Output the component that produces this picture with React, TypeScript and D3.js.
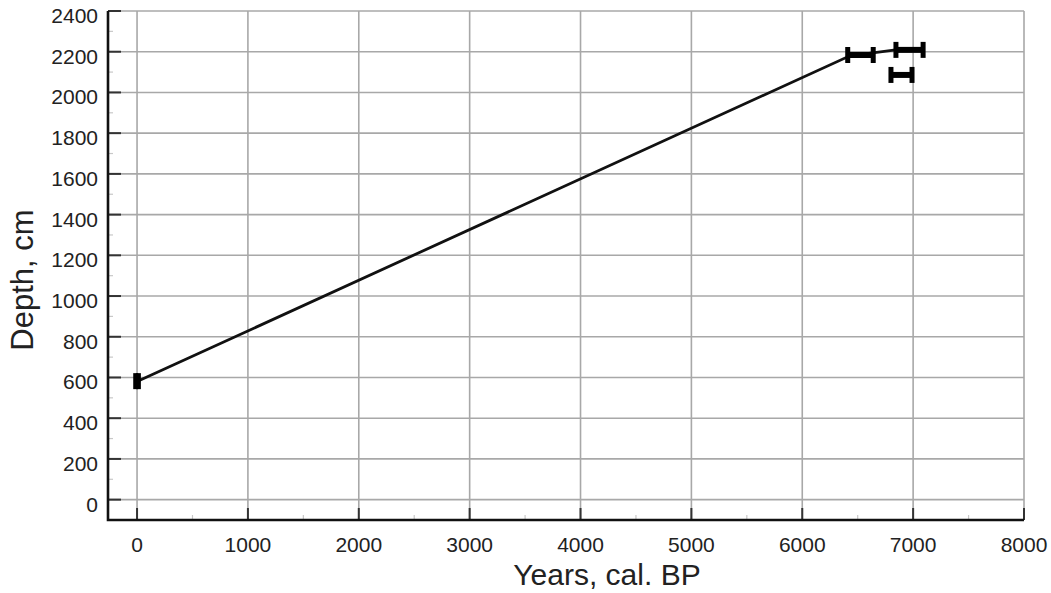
import React, { useEffect, useRef } from 'react'
import * as d3 from 'd3'

// age-depth model line
const modelYears = [0, 6430, 6860]
const modelDepths = [580, 2180, 2210]

// dated samples with calibrated ranges
const dateMin = [-12, 6410, 6845, 6800]
const dateMax = [12, 6640, 7090, 6990]
const dateDepth = [582, 2184, 2209, 2086]

const xTicks = [0, 1000, 2000, 3000, 4000, 5000, 6000, 7000, 8000]
const yTicks = [0, 200, 400, 600, 800, 1000, 1200, 1400, 1600, 1800, 2000, 2200, 2400]

const App = () => {
    const ref = useRef<SVGSVGElement>(null)

    useEffect(() => {
        draw()
    })

    const draw = () => {
        const W = 1051
        const H = 593
        const left = 108
        const right = 1024
        const top = 11
        const bottom = 520

        const svg = d3.select(ref.current)
        svg.selectAll('*').remove()
        svg.attr('width', W).attr('height', H)

        const x = d3.scaleLinear().domain([-262, 8000]).range([left, right])
        const y = d3.scaleLinear().domain([-100, 2400]).range([bottom, top])

        const font = 'Liberation Sans, Arial, sans-serif'

        // grid
        const grid = svg.append('g').attr('stroke', '#a8a8a8').attr('stroke-width', 1.6)
        xTicks.forEach((t) => {
            grid.append('line').attr('x1', x(t)).attr('x2', x(t)).attr('y1', top).attr('y2', bottom)
        })
        yTicks.forEach((t) => {
            grid.append('line').attr('x1', left).attr('x2', right).attr('y1', y(t)).attr('y2', y(t))
        })

        // minor ticks
        const minor = svg.append('g').attr('stroke', '#c8c8c8').attr('stroke-width', 1.2)
        d3.range(500, 8000, 1000).forEach((t) => {
            minor.append('line').attr('x1', x(t)).attr('x2', x(t)).attr('y1', bottom).attr('y2', bottom - 5)
        })
        d3.range(-100, 2400, 200).forEach((t) => {
            minor.append('line').attr('x1', left).attr('x2', left + 5).attr('y1', y(t)).attr('y2', y(t))
        })

        // major ticks
        const major = svg.append('g').attr('stroke', '#333').attr('stroke-width', 2)
        xTicks.forEach((t) => {
            major.append('line').attr('x1', x(t)).attr('x2', x(t)).attr('y1', bottom).attr('y2', bottom - 12)
        })
        yTicks.forEach((t) => {
            major.append('line').attr('x1', left).attr('x2', left + 13).attr('y1', y(t)).attr('y2', y(t))
        })

        // axes
        svg.append('path')
            .attr('d', `M${left},${top}V${bottom}H${right}`)
            .attr('fill', 'none')
            .attr('stroke', '#111')
            .attr('stroke-width', 2.6)

        // tick labels
        svg.append('g').selectAll('text').data(xTicks).enter().append('text')
            .attr('x', (d) => x(d))
            .attr('y', 552)
            .attr('text-anchor', 'middle')
            .attr('font-family', font)
            .attr('font-size', 21)
            .attr('fill', '#222')
            .text((d) => d)
        svg.append('g').selectAll('text').data(yTicks).enter().append('text')
            .attr('x', 98)
            .attr('y', (d) => y(d) + 12)
            .attr('text-anchor', 'end')
            .attr('font-family', font)
            .attr('font-size', 21)
            .attr('fill', '#222')
            .text((d) => d)

        // axis titles
        svg.append('text')
            .attr('x', 607).attr('y', 585)
            .attr('text-anchor', 'middle')
            .attr('font-family', font).attr('font-size', 30).attr('fill', '#222')
            .text('Years, cal. BP')
        svg.append('text')
            .attr('transform', `translate(33,280) rotate(-90)`)
            .attr('text-anchor', 'middle')
            .attr('font-family', font).attr('font-size', 31).attr('fill', '#222')
            .text('Depth, cm')

        // model line
        const line = d3.line<number>()
            .x((d, i) => x(modelYears[i]))
            .y((d, i) => y(modelDepths[i]))
        svg.append('path')
            .datum(modelYears)
            .attr('d', line)
            .attr('fill', 'none')
            .attr('stroke', '#111')
            .attr('stroke-width', 2.8)

        // error bars
        const bars = svg.append('g').attr('stroke', '#000')
        dateDepth.forEach((dep, i) => {
            const x0 = x(dateMin[i])
            const x1 = x(dateMax[i])
            const yy = y(dep)
            bars.append('line').attr('x1', x0).attr('x2', x1).attr('y1', yy).attr('y2', yy).attr('stroke-width', 6)
            bars.append('line').attr('x1', x0).attr('x2', x0).attr('y1', yy - 8).attr('y2', yy + 8).attr('stroke-width', 5)
            bars.append('line').attr('x1', x1).attr('x2', x1).attr('y1', yy - 8).attr('y2', yy + 8).attr('stroke-width', 5)
        })
    }

    return <svg ref={ref} style={{ position: 'absolute', left: 0, top: 0 }}></svg>
}

export default App
